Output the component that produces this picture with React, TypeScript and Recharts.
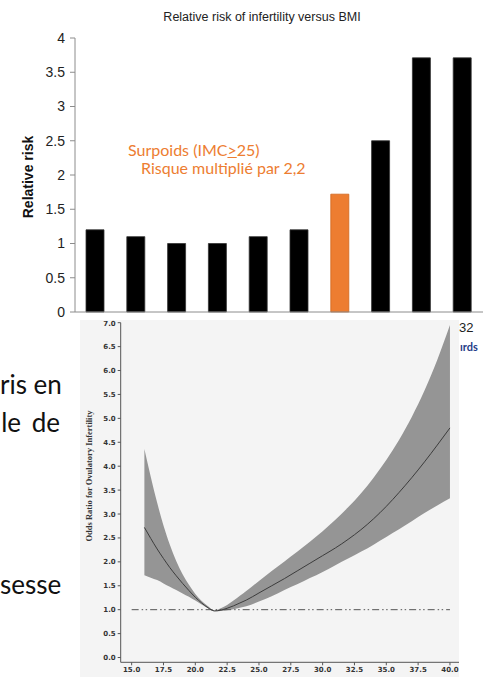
import React from 'react';
import {
  BarChart,
  Bar,
  XAxis,
  YAxis,
  Cell,
  ComposedChart,
  Area,
  Line,
  ReferenceLine,
} from 'recharts';

// ---------- Top chart: relative risk by BMI category ----------
const riskCategories = ['<18', '18–19.9', '20–20.9', '21–21.9', '22–22.9', '23–23.9', '24–25.9', '26–27.9', '28–31.9', '≥32'];
const riskValues = [1.2, 1.1, 1.0, 1.0, 1.1, 1.2, 1.72, 2.5, 3.71, 3.71];
const highlightCategory = '24–25.9';
const visibleCategoryLabel = '≥32';
const riskTicks = [0, 0.5, 1, 1.5, 2, 2.5, 3, 3.5, 4];
const boundaryTicks = [0, 1, 2, 3, 4, 5, 6, 7, 8, 9];

// ---------- Bottom chart: odds ratio curve ----------
const bmiValues = [16, 16.5, 17, 17.5, 18, 18.5, 19, 19.5, 20, 20.5, 21, 21.5, 22, 22.5, 23, 23.5, 24, 25, 26, 27, 28, 29, 30, 31, 32, 33, 34, 35, 36, 37, 38, 39, 40];
const orCenter = [2.72, 2.49, 2.27, 2.07, 1.88, 1.71, 1.55, 1.4, 1.26, 1.14, 1.04, 0.975, 0.99, 1.03, 1.08, 1.14, 1.2, 1.35, 1.5, 1.65, 1.81, 1.97, 2.13, 2.29, 2.47, 2.67, 2.9, 3.16, 3.45, 3.76, 4.09, 4.44, 4.8];
const orLower = [1.72, 1.67, 1.62, 1.55, 1.48, 1.41, 1.34, 1.27, 1.19, 1.11, 1.03, 0.965, 0.97, 0.99, 1.01, 1.04, 1.07, 1.17, 1.28, 1.41, 1.53, 1.66, 1.79, 1.93, 2.07, 2.21, 2.36, 2.52, 2.68, 2.85, 3.02, 3.18, 3.33];
const orUpper = [4.36, 3.78, 3.24, 2.76, 2.36, 2.02, 1.74, 1.52, 1.33, 1.18, 1.07, 0.98, 1.03, 1.1, 1.19, 1.29, 1.39, 1.6, 1.81, 2.01, 2.21, 2.42, 2.64, 2.88, 3.14, 3.43, 3.76, 4.13, 4.55, 5.03, 5.58, 6.22, 6.95];
const bmiTicks = [15, 17.5, 20, 22.5, 25, 27.5, 30, 32.5, 35, 37.5, 40];
const orTicks = [0, 0.5, 1, 1.5, 2, 2.5, 3, 3.5, 4, 4.5, 5, 5.5, 6, 6.5, 7];
const bmiMinorTicks = Array.from({ length: 52 }, (_, i) => 15 + i * 0.5);
const orMinorTicks = Array.from({ length: 71 }, (_, i) => i / 10);
const referenceOR = 1;
const referenceSpan = [15, 40];

const riskData = riskCategories.map((cat, i) => ({ cat, idx: i, risk: riskValues[i] }));
const orData = bmiValues.map((bmi, i) => ({
  bmi,
  center: orCenter[i],
  band: [orLower[i], orUpper[i]],
}));

const abs = (left: number, top: number, extra: React.CSSProperties = {}): React.CSSProperties => ({
  position: 'absolute',
  left,
  top,
  whiteSpace: 'nowrap',
  ...extra,
});

const RotText = ({ cx, cy, text, style }: { cx: number; cy: number; text: string; style: React.CSSProperties }) => (
  <div
    style={{
      position: 'absolute',
      left: cx,
      top: cy,
      transform: 'translate(-50%, -50%) rotate(-90deg)',
      whiteSpace: 'nowrap',
      lineHeight: 1,
      ...style,
    }}
  >
    {text}
  </div>
);

const CategoryTick = (props: any) => {
  const { x, y, payload } = props;
  if (payload.value !== visibleCategoryLabel) return <g />;
  return (
    <text
      x={x}
      y={y}
      dy="0.71em"
      textAnchor="middle"
      fontSize={13}
      fill="#222"
      fontFamily="'Liberation Sans', Arial, sans-serif"
    >
      {payload.value}
    </text>
  );
};

const slideFont = "Lato, 'Open Sans', sans-serif";

export default function App() {
  return (
    <div
      style={{
        position: 'absolute',
        left: 0,
        top: 0,
        width: 486,
        height: 677,
        background: '#ffffff',
        overflow: 'hidden',
        fontFamily: "'Liberation Sans', Arial, sans-serif",
      }}
    >
      {/* Title */}
      <div
        style={abs(262, 10, {
          transform: 'translateX(-50%)',
          fontSize: 12.5,
          color: '#222',
          lineHeight: '14px',
        })}
      >
        Relative risk of infertility versus BMI
      </div>

      {/* Top bar chart */}
      <div style={{ position: 'absolute', left: 0, top: 0 }}>
        <BarChart
          width={486}
          height={345}
          data={riskData}
          margin={{ top: 38, right: 3, bottom: 3, left: 0 }}
        >
          <XAxis
            xAxisId="bounds"
            type="number"
            dataKey="idx"
            domain={[0, 10]}
            ticks={boundaryTicks}
            height={0}
            axisLine={false}
            tick={false}
            tickSize={5}
            tickLine={{ stroke: '#8c8c8c' }}
            allowDataOverflow
          />
          <XAxis
            xAxisId="cat"
            dataKey="cat"
            type="category"
            height={30}
            interval={0}
            tickLine={false}
            tickSize={4}
            tickMargin={7}
            axisLine={{ stroke: '#8c8c8c' }}
            tick={CategoryTick}
          />
          <YAxis
            width={75}
            domain={[0, 4]}
            ticks={riskTicks}
            tickSize={5}
            tickMargin={5}
            axisLine={{ stroke: '#8c8c8c' }}
            tickLine={{ stroke: '#8c8c8c' }}
            tick={{ fontSize: 14, fill: '#222', fontFamily: "'Liberation Sans', Arial, sans-serif" }}
          />
          <Bar xAxisId="cat" dataKey="risk" barSize={18} isAnimationActive={false}>
            {riskData.map((d) => (
              <Cell
                key={d.cat}
                fill={d.cat === highlightCategory ? '#ED7D31' : '#000000'}
                stroke={d.cat === highlightCategory ? '#D0651C' : '#333333'}
                strokeWidth={0.8}
              />
            ))}
          </Bar>
        </BarChart>
      </div>

      <RotText
        cx={27.5}
        cy={177}
        text="Relative risk"
        style={{ fontSize: 14, fontWeight: 700, color: '#111', fontFamily: "'Liberation Sans', Arial, sans-serif" }}
      />

      {/* Orange annotation */}
      <div style={abs(128, 141, { fontSize: 16, color: '#ED7D31', fontFamily: slideFont, lineHeight: '18px' })}>
        Surpoids (IMC<span style={{ textDecoration: 'underline' }}>&gt;</span>25)
      </div>
      <div style={abs(141, 159, { fontSize: 16, color: '#ED7D31', fontFamily: slideFont, lineHeight: '18px' })}>
        Risque multiplié par 2,2
      </div>

      {/* Slide text fragments on the left */}
      <div style={abs(0, 368, { width: 60, textAlign: 'right', fontSize: 26, color: '#111', fontFamily: slideFont, lineHeight: '32px' })}>
        ris en
      </div>
      <div style={abs(0, 406, { width: 60, textAlign: 'right', fontSize: 26, color: '#111', fontFamily: slideFont, lineHeight: '32px', wordSpacing: 4 })}>
        le de
      </div>
      <div style={abs(0, 568, { width: 60, textAlign: 'right', fontSize: 26, color: '#111', fontFamily: slideFont, lineHeight: '32px' })}>
        sesse
      </div>

      {/* Right fragment */}
      <div style={abs(460, 340, { fontSize: 11, fontWeight: 700, color: '#1F3C88', fontFamily: slideFont, lineHeight: '13px' })}>
        ırds
      </div>

      {/* Bottom odds-ratio chart (scanned figure) */}
      <div
        style={{
          position: 'absolute',
          left: 80,
          top: 320,
          width: 379,
          height: 357,
          background: '#f4f4f4',
          overflow: 'hidden',
        }}
      >
        <ComposedChart
          width={379}
          height={357}
          data={orData}
          margin={{ top: 2.7, right: 0, bottom: 0.7, left: 0 }}
        >
          <XAxis
            xAxisId="minor"
            type="number"
            dataKey="bmi"
            domain={[14.14, 40.71]}
            ticks={bmiMinorTicks}
            height={0}
            axisLine={false}
            tick={false}
            tickSize={2}
            tickLine={{ stroke: '#666' }}
            allowDataOverflow
          />
          <XAxis
            xAxisId="main"
            type="number"
            dataKey="bmi"
            domain={[14.14, 40.71]}
            ticks={bmiTicks}
            height={14}
            tickSize={3}
            tickMargin={2}
            axisLine={{ stroke: '#555' }}
            tickLine={{ stroke: '#555' }}
            tick={{ fontSize: 7, fontWeight: 700, fill: '#333', fontFamily: "'DejaVu Sans', sans-serif" }}
            tickFormatter={(v: number) => v.toFixed(1)}
            allowDataOverflow
          />
          <YAxis
            yAxisId="minor"
            type="number"
            domain={[-0.1, 7]}
            ticks={orMinorTicks}
            width={0}
            axisLine={false}
            tick={false}
            tickSize={2}
            tickLine={{ stroke: '#666' }}
            allowDataOverflow
          />
          <YAxis
            yAxisId="main"
            type="number"
            domain={[-0.1, 7]}
            ticks={orTicks}
            width={40.7}
            tickSize={3}
            tickMargin={2}
            axisLine={{ stroke: '#555' }}
            tickLine={{ stroke: '#555' }}
            tick={{ fontSize: 7, fontWeight: 700, fill: '#333', fontFamily: "'DejaVu Sans', sans-serif" }}
            tickFormatter={(v: number) => v.toFixed(1)}
            allowDataOverflow
          />
          <Area
            xAxisId="main"
            yAxisId="main"
            type="monotone"
            dataKey="band"
            stroke="none"
            fill="#959595"
            fillOpacity={1}
            isAnimationActive={false}
          />
          <ReferenceLine
            xAxisId="main"
            yAxisId="main"
            segment={[
              { x: referenceSpan[0], y: referenceOR },
              { x: referenceSpan[1], y: referenceOR },
            ]}
            stroke="#555"
            strokeWidth={1}
            strokeDasharray="7 3 1.5 2.5 1.5 3"
          />
          <Line
            xAxisId="main"
            yAxisId="main"
            type="monotone"
            dataKey="center"
            stroke="#3c3c3c"
            strokeWidth={1}
            dot={false}
            isAnimationActive={false}
          />
        </ComposedChart>
        <RotText
          cx={9.3}
          cy={156}
          text="Odds Ratio for Ovulatory Infertility"
          style={{ fontSize: 8.5, fontWeight: 700, color: '#333', fontFamily: "'Liberation Serif', serif" }}
        />
      </div>
    </div>
  );
}
